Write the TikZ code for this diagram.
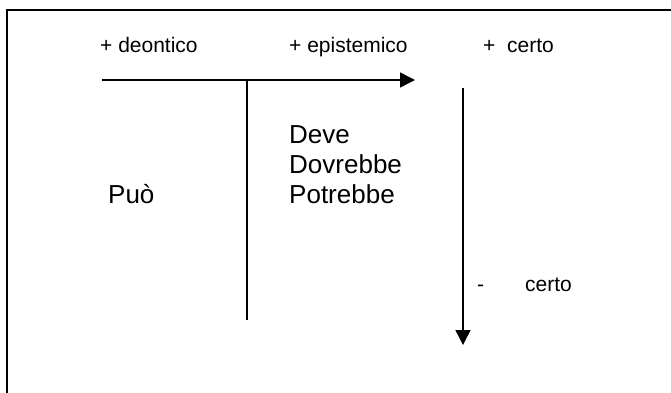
\documentclass[tikz,border=0pt]{standalone}
\usepackage{fontspec}
\setmainfont{Liberation Sans}
\usetikzlibrary{arrows.meta}
\begin{document}
\begin{tikzpicture}[x=1pt,y=-1pt,
  small/.style={inner sep=0pt,anchor=base west,font=\fontsize{21}{25}\selectfont},
  big/.style={inner sep=0pt,anchor=base west,font=\fontsize{26}{30}\selectfont},
  axis/.style={line width=1.5pt},
  arr/.style={axis,-{Triangle[length=15pt,width=15pt]}}]
\useasboundingbox (0,0) rectangle (671,392);
% frame (open to the right and bottom, cut by the page edge)
\draw[line width=2pt] (7,420) -- (7,10) -- (700,10);
% coordinates
\coordinate (hs) at (102,80);
\coordinate (he) at (415,80);
\coordinate (vt) at (247,80);
\coordinate (vb) at (247,320);
\coordinate (ds) at (463,88);
\coordinate (de) at (463,345);
% connectors
\draw[arr] (hs) -- (he);
\draw[axis] (vt) -- (vb);
\draw[arr] (ds) -- (de);
% labels
\node[small] (deon) at (100,52) {+ deontico};
\node[small] (epi) at (289,52) {+ epistemico};
\node[small] (cert) at (483,52) {+\ \ certo};
\node[big] (deve) at (289,143) {Deve};
\node[big] (dovr) at (289,173) {Dovrebbe};
\node[big] (potr) at (289,203) {Potrebbe};
\node[big] (puo) at (108,203) {Può};
\node[small] (minus) at (477,291) {-};
\node[small] (cert2) at (525,291) {certo};
\end{tikzpicture}
\end{document}
